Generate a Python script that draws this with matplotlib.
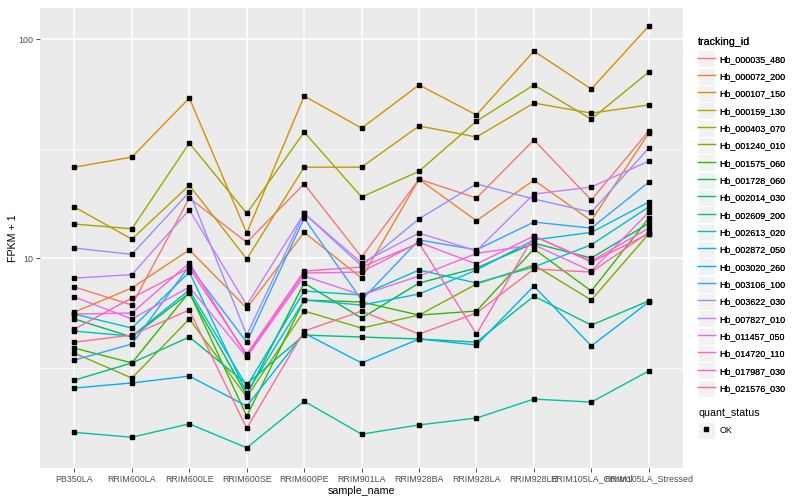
import numpy as np
import matplotlib
matplotlib.use("Agg")
import matplotlib.pyplot as plt
from matplotlib.lines import Line2D
from matplotlib.patches import Rectangle
from matplotlib.legend_handler import HandlerLine2D

samples = ["PB350LA", "RRIM600LA", "RRIM600LE", "RRIM600SE", "RRIM600PE", "RRIM901LA",
           "RRIM928BA", "RRIM928LA", "RRIM928LE", "RRIM105LA_Control", "RRIM105LA_Stressed"]

# FPKM + 1 per transcript, in sample order
hb_000035_480 = [7.38, 6.10, 18.8, 11.8, 21.8, 10.1, 22.9, 18.8, 34.6, 18.4, 38.0]
hb_000072_200 = [5.67, 7.30, 10.9, 5.91, 13.1, 8.1, 22.9, 14.8, 22.7, 14.8, 37.2]
hb_000107_150 = [26.0, 28.9, 53.8, 13.0, 54.9, 39.2, 61.7, 45.0, 88.1, 59.1, 114.7]
hb_000159_130 = [17.1, 12.2, 21.5, 9.9, 26.0, 26.0, 40.1, 35.7, 51.0, 45.9, 50.0]
hb_000403_070 = [14.3, 13.6, 33.5, 16.0, 37.6, 19.0, 24.9, 42.2, 61.7, 43.1, 70.7]
hb_001240_010 = [3.68, 2.83, 5.27, 2.32, 5.73, 4.79, 5.49, 7.61, 9.29, 6.43, 12.9]
hb_001575_060 = [3.88, 3.32, 6.99, 1.90, 6.43, 6.30, 5.49, 5.73, 11.0, 7.07, 15.2]
hb_001728_060 = [5.27, 4.36, 6.92, 2.37, 7.69, 5.32, 7.69, 9.00, 11.7, 10.0, 14.4]
hb_002014_030 = [2.77, 3.32, 4.36, 2.66, 4.45, 4.36, 4.27, 4.13, 6.70, 4.94, 6.37]
hb_002609_200 = [1.60, 1.52, 1.75, 1.36, 2.22, 1.57, 1.73, 1.86, 2.27, 2.20, 3.05]
hb_002613_020 = [4.64, 4.40, 7.14, 2.60, 7.07, 6.78, 8.82, 7.69, 9.10, 11.5, 17.1]
hb_002872_050 = [5.55, 4.79, 8.63, 2.42, 6.43, 6.10, 6.85, 8.82, 12.1, 13.1, 18.0]
hb_003020_260 = [2.55, 2.69, 2.89, 2.11, 4.54, 3.32, 4.27, 4.01, 7.45, 3.97, 6.30]
hb_003106_100 = [3.42, 4.05, 9.20, 4.13, 15.2, 6.43, 12.1, 10.9, 14.6, 13.7, 22.2]
hb_003622_030 = [11.1, 10.4, 20.0, 4.45, 16.0, 9.2, 15.1, 21.8, 18.6, 16.2, 31.8]
hb_007827_010 = [8.1, 8.4, 16.6, 6.1, 16.0, 9.5, 13.0, 10.8, 19.6, 21.1, 27.7]
hb_011457_050 = [6.64, 5.27, 7.37, 3.53, 8.28, 6.78, 8.28, 10.5, 11.5, 8.72, 16.2]
hb_014720_110 = [5.55, 5.61, 9.49, 3.57, 8.54, 8.63, 11.8, 9.39, 12.6, 9.69, 13.7]
hb_017987_030 = [4.74, 6.57, 9.00, 3.64, 8.72, 9.10, 11.7, 4.50, 12.6, 9.59, 12.9]
hb_021576_030 = [4.13, 4.45, 5.79, 1.67, 4.64, 5.73, 4.50, 5.61, 8.91, 8.63, 13.1]

tracking_ids = ["Hb_000035_480", "Hb_000072_200", "Hb_000107_150", "Hb_000159_130",
                "Hb_000403_070", "Hb_001240_010", "Hb_001575_060", "Hb_001728_060",
                "Hb_002014_030", "Hb_002609_200", "Hb_002613_020", "Hb_002872_050",
                "Hb_003020_260", "Hb_003106_100", "Hb_003622_030", "Hb_007827_010",
                "Hb_011457_050", "Hb_014720_110", "Hb_017987_030", "Hb_021576_030"]
series = [hb_000035_480, hb_000072_200, hb_000107_150, hb_000159_130, hb_000403_070,
          hb_001240_010, hb_001575_060, hb_001728_060, hb_002014_030, hb_002609_200,
          hb_002613_020, hb_002872_050, hb_003020_260, hb_003106_100, hb_003622_030,
          hb_007827_010, hb_011457_050, hb_014720_110, hb_017987_030, hb_021576_030]
colors = ["#F8766D", "#EA8331", "#D89000", "#C09B00", "#A3A500", "#7CAE00", "#39B600",
          "#00BB4E", "#00BF7D", "#00C1A3", "#00BFC4", "#00BAE0", "#00B0F6", "#35A2FF",
          "#9590FF", "#C77CFF", "#E76BF3", "#FA62DB", "#FF62BC", "#FF6C91"]


class KeyHandler(HandlerLine2D):
    # ggplot style legend key: grey box behind the glyph
    def create_artists(self, legend, orig_handle, xdescent, ydescent, width, height, fontsize, trans):
        arts = super().create_artists(legend, orig_handle, xdescent, ydescent, width, height, fontsize, trans)
        pad = 0.36 * fontsize
        box = Rectangle((-xdescent, -ydescent - pad), width, height + 2 * pad,
                        facecolor="#F2F2F2", edgecolor="white", linewidth=0.8, transform=trans)
        return [box] + arts


def main():
    plt.rcParams['font.family'] = ["Liberation Sans", "DejaVu Sans"]
    fig = plt.figure(figsize=(8, 5), dpi=100)
    ax = fig.add_axes([0.05, 0.064, 0.804, 0.92])
    ax.set_facecolor("#EBEBEB")

    x = np.arange(len(samples))
    for vals, col in zip(series, colors):
        ax.plot(x, vals, color=col, lw=1.0, zorder=3)
    for vals in series:
        ax.plot(x, vals, "s", color="black", ms=2.3, zorder=4)

    ax.set_yscale("log")
    ax.set_ylim(1.10, 138.6)
    ax.set_xlim(-0.6, len(samples) - 0.4)
    ax.set_yticks([10, 100])
    ax.set_yticklabels(["10", "100"])
    ax.set_yticks([10 ** 0.5, 10 ** 1.5], minor=True)
    ax.yaxis.set_minor_formatter(plt.NullFormatter())
    ax.set_xticks(x)
    ax.set_xticklabels(samples)

    ax.grid(True, which="major", color="white", lw=1.1, zorder=0)
    ax.grid(True, which="minor", axis="y", color="white", lw=0.55, zorder=0)
    ax.set_axisbelow(True)
    for s in ax.spines.values():
        s.set_visible(False)
    ax.tick_params(which="major", length=2.7, width=0.6, color="#333333",
                   labelsize=6.4, labelcolor="#4D4D4D", pad=2)
    ax.tick_params(which="minor", length=0)

    ax.set_xlabel("sample_name", fontsize=7.7, labelpad=2)
    ax.set_ylabel("FPKM + 1", fontsize=7.7, labelpad=0)

    handles = [Line2D([], [], color=c, lw=1.0) for c in colors]
    leg1 = fig.legend(handles, tracking_ids, loc="upper left", bbox_to_anchor=(0.867, 0.935),
                      frameon=False, title="tracking_id", title_fontsize=7.7, fontsize=6.4,
                      handlelength=1.9, handleheight=1.5, labelspacing=0.73, handletextpad=0.5,
                      borderpad=0, alignment="left",
                      handler_map={Line2D: KeyHandler()})
    fig.add_artist(leg1)
    pt = Line2D([], [], marker="s", ls="none", color="black", ms=2.3)
    fig.legend([pt], ["OK"], loc="upper left", bbox_to_anchor=(0.867, 0.192),
               frameon=False, title="quant_status", title_fontsize=7.7, fontsize=6.4,
               handlelength=1.9, handleheight=1.5, labelspacing=0.73, handletextpad=0.5,
               borderpad=0, alignment="left",
               handler_map={Line2D: KeyHandler()})

    fig.savefig("out.png", dpi=100)


if __name__ == "__main__":
    main()
